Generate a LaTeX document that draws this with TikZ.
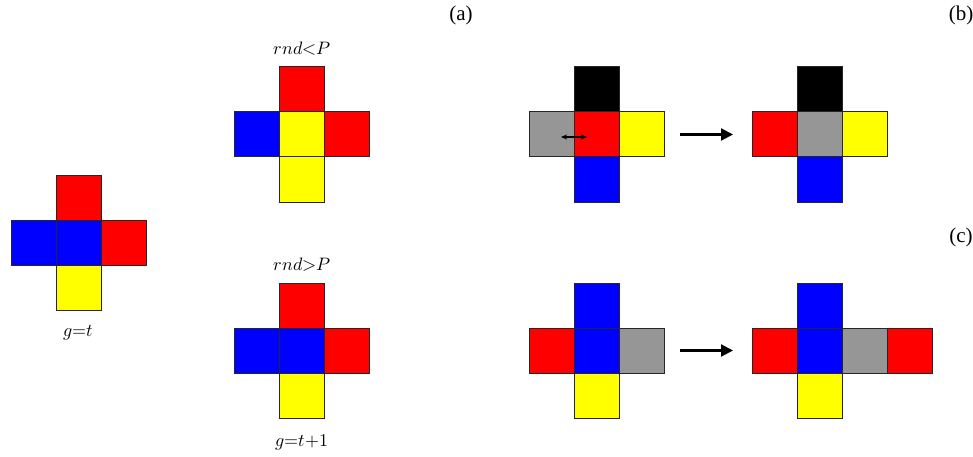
\documentclass[tikz,border=0pt]{standalone}
\usepackage{fontspec}
\usepackage{unicode-math}
\setmathfont{Latin Modern Math}
\newfontfamily\tagfont{Liberation Serif}
\usetikzlibrary{arrows.meta}
\definecolor{cellred}{RGB}{255,0,0}
\definecolor{cellblue}{RGB}{0,0,255}
\definecolor{cellyellow}{RGB}{255,255,0}
\definecolor{cellgray}{RGB}{150,150,150}
\tikzset{
  cellsq/.style={draw=black!85, line width=1pt, minimum size=45pt, inner sep=0pt, outer sep=0pt},
  mathlbl/.style={font=\fontsize{18}{20}\selectfont, inner sep=0pt},
  taglbl/.style={font=\tagfont\fontsize{21}{24}\selectfont, inner sep=0pt},
  moveto/.style={-{Triangle[length=12pt,width=12pt]}, line width=2.2pt},
  swap/.style={{Stealth[length=6pt,width=5pt]}-{Stealth[length=6pt,width=5pt]}, line width=1.3pt}
}
% \cellbox{name}{x centre}{y centre}{fill}
\newcommand\cellbox[4]{\node[cellsq, fill=#4] (#1) at (#2,#3) {};}
\begin{document}
\begin{tikzpicture}[x=1pt, y=-1pt]
\useasboundingbox (0,0) rectangle (973,457);

% generation g = t
\cellbox{g0n}{78.5}{197.5}{cellred}
\cellbox{g0w}{33.5}{242.5}{cellblue}
\cellbox{g0c}{78.5}{242.5}{cellblue}
\cellbox{g0e}{123.5}{242.5}{cellred}
\cellbox{g0s}{78.5}{287.5}{cellyellow}
\node[mathlbl] (lblgt) at (78.5,333) {$g{=}t$};

% case rnd < P
\cellbox{aun}{301.5}{89.5}{cellred}
\cellbox{auw}{256.5}{134.5}{cellblue}
\cellbox{auc}{301.5}{134.5}{cellyellow}
\cellbox{aue}{346.5}{134.5}{cellred}
\cellbox{aus}{301.5}{179.5}{cellyellow}
\node[mathlbl] (lbllt) at (302.5,49) {$rnd{<}P$};

% case rnd > P
\cellbox{aln}{301.5}{305.5}{cellred}
\cellbox{alw}{256.5}{350.5}{cellblue}
\cellbox{alc}{301.5}{350.5}{cellblue}
\cellbox{ale}{346.5}{350.5}{cellred}
\cellbox{als}{301.5}{395.5}{cellyellow}
\node[mathlbl] (lblmore) at (302.5,265) {$rnd{>}P$};
\node[mathlbl] (lblnext) at (302,442) {$g{=}t{+}1$};

\node[taglbl] (taga) at (461,15) {(a)};
\node[taglbl] (tagb) at (961,15) {(b)};
\node[taglbl] (tagc) at (961,237) {(c)};

% (b) swap of the centre with the empty site
\cellbox{bln}{596.5}{89.5}{black}
\cellbox{blw}{551.5}{134.5}{cellgray}
\cellbox{blc}{596.5}{134.5}{cellred}
\cellbox{ble}{641.5}{134.5}{cellyellow}
\cellbox{bls}{596.5}{179.5}{cellblue}
\coordinate (swl) at (561,137);
\coordinate (swr) at (587,137);
\draw[swap] (swl) -- (swr);

\cellbox{brn}{819.5}{89.5}{black}
\cellbox{brw}{774.5}{134.5}{cellred}
\cellbox{brc}{819.5}{134.5}{cellgray}
\cellbox{bre}{864.5}{134.5}{cellyellow}
\cellbox{brs}{819.5}{179.5}{cellblue}
\draw[moveto] ([xshift=16pt]ble.east) -- ([xshift=-19pt]brw.west);

% (c) growth into the empty site
\cellbox{cln}{596.5}{305.5}{cellblue}
\cellbox{clw}{551.5}{350.5}{cellred}
\cellbox{clc}{596.5}{350.5}{cellblue}
\cellbox{cle}{641.5}{350.5}{cellgray}
\cellbox{cls}{596.5}{395.5}{cellyellow}

\cellbox{crn}{819.5}{305.5}{cellblue}
\cellbox{crw}{774.5}{350.5}{cellred}
\cellbox{crc}{819.5}{350.5}{cellblue}
\cellbox{cre}{864.5}{350.5}{cellgray}
\cellbox{crf}{909.5}{350.5}{cellred}
\cellbox{crs}{819.5}{395.5}{cellyellow}
\draw[moveto] ([xshift=16pt]cle.east) -- ([xshift=-19pt]crw.west);
\end{tikzpicture}
\end{document}
